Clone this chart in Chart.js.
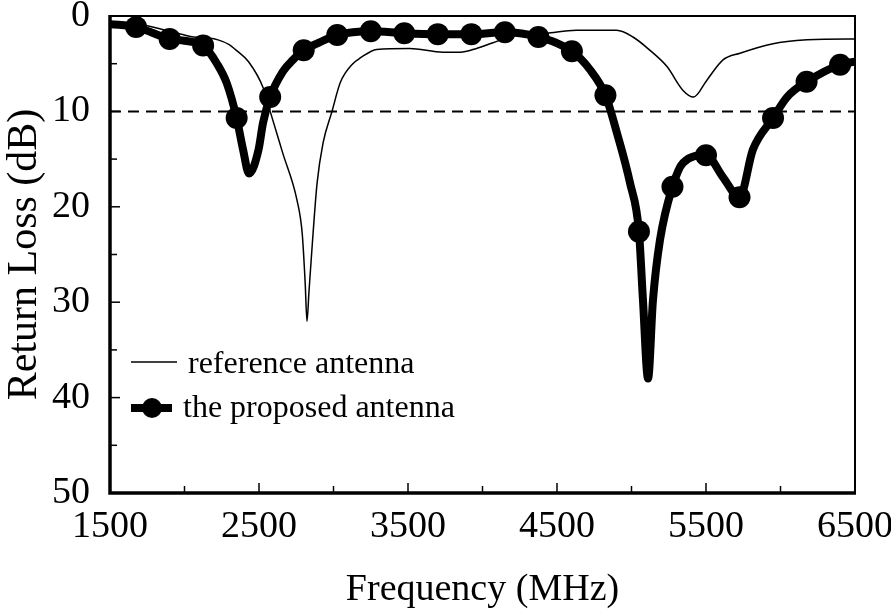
<!DOCTYPE html>
<html lang="en">
<head>
  <meta charset="UTF-8">
  <title>Return Loss</title>
  <style>
    body { margin: 0; background: #fff; }
    #wrap { width: 891px; height: 613px; }
  </style>
</head>
<body>

<div id="wrap">
  <canvas id="rlChart"></canvas>
</div>

<script src="https://cdn.jsdelivr.net/npm/chart.js"></script>
<script>
  // reference antenna (thin line)
  const refFreq = [1500, 1600, 1700, 1800, 1900, 2000, 2060, 2150, 2225, 2300, 2340, 2430, 2530, 2575,
    2660, 2755, 2790, 2810, 2822, 2835, 2855, 2890, 2930, 2990, 3045, 3130, 3180, 3290, 3510, 3735,
    3850, 3960, 4070, 4200, 4430, 4630, 4900, 5010, 5124, 5238, 5346, 5416, 5507, 5614, 5728, 5950,
    6180, 6450, 6500];
  const refLoss = [0.6, 0.7, 0.9, 1.2, 1.6, 2.0, 2.2, 2.3, 2.5, 3.0, 3.5, 4.8, 7.6, 10.0,
    14.4, 19.3, 22.8, 28.0, 32.0, 29.0, 24.5, 17.5, 13.3, 10.0, 7.0, 5.0, 4.4, 3.5, 3.4, 3.8,
    3.8, 3.4, 2.8, 2.1, 1.8, 1.5, 1.5, 2.2, 3.6, 5.3, 7.8, 8.5, 6.7, 4.6, 3.9, 2.9,
    2.5, 2.4, 2.4];

  // proposed antenna (thick line with markers)
  const propFreq = [1500, 1675, 1775, 1900, 2000, 2125, 2218, 2285, 2350, 2393, 2433, 2497, 2527, 2575,
    2661, 2728, 2800, 2888, 3025, 3250, 3475, 3700, 3925, 4150, 4375, 4600, 4720, 4825, 4903, 4990,
    5050, 5077, 5111, 5144, 5191, 5275, 5346, 5500, 5614, 5725, 5815, 5950, 6044, 6175, 6400, 6500];
  const propLoss = [0.85, 1.15, 1.7, 2.4, 2.6, 3.1, 5.0, 7.1, 10.7, 14.0, 16.5, 14.0, 11.2, 8.5,
    5.8, 4.6, 3.6, 2.9, 2.0, 1.6, 1.8, 1.9, 1.9, 1.7, 2.2, 3.7, 5.6, 8.3, 12.3, 17.5,
    22.6, 29.8, 38.0, 29.8, 23.5, 17.9, 15.4, 14.6, 16.9, 19.0, 14.0, 10.7, 8.5, 6.9, 5.1, 4.8];
  const markerFreq = [1675, 1900, 2125, 2350, 2575, 2800, 3025, 3250, 3475, 3700, 3925, 4150, 4375,
    4600, 4825, 5050, 5275, 5500, 5725, 5950, 6175, 6400];

  const xLabels = [1500, 2500, 3500, 4500, 5500, 6500];
  const yLabels = [0, 10, 20, 30, 40, 50];
  const limitLoss = 10;

  const serif = '"Liberation Serif", "Times New Roman", serif';
  Chart.defaults.color = '#000';
  Chart.defaults.font.family = serif;

  const toXY = (xs, ys) => xs.map((v, i) => ({ x: v, y: ys[i] }));

  // inward tick marks and the box round the plot
  const framePlugin = {
    id: 'frame',
    afterDatasetsDraw(chart) {
      const { ctx, chartArea: a, scales: { x, y } } = chart;
      ctx.save();
      ctx.strokeStyle = '#000';
      ctx.lineWidth = 1.5;
      x.ticks.forEach(t => {
        const px = x.getPixelForValue(t.value);
        const len = t.label ? 10 : 7;
        ctx.beginPath();
        ctx.moveTo(px, a.bottom);
        ctx.lineTo(px, a.bottom - len);
        ctx.stroke();
      });
      y.ticks.forEach(t => {
        const py = y.getPixelForValue(t.value);
        const len = t.label ? 10 : 7;
        ctx.beginPath();
        ctx.moveTo(a.left, py);
        ctx.lineTo(a.left + len, py);
        ctx.stroke();
      });
      ctx.lineWidth = 2;
      ctx.strokeRect(a.left, a.top, a.right - a.left, a.bottom - a.top);
      ctx.lineWidth = 3.5;
      ctx.beginPath();
      ctx.moveTo(a.left, a.top - 1);
      ctx.lineTo(a.left, a.bottom);
      ctx.lineTo(a.right + 1, a.bottom);
      ctx.stroke();
      ctx.restore();
    }
  };

  const legendPlugin = {
    id: 'innerLegend',
    afterDraw(chart) {
      const { ctx, chartArea: a } = chart;
      const lx = a.left + 21;
      ctx.save();
      ctx.strokeStyle = '#000';
      ctx.fillStyle = '#000';
      ctx.font = '32px ' + serif;
      ctx.textBaseline = 'alphabetic';

      ctx.lineWidth = 1.5;
      ctx.beginPath();
      ctx.moveTo(lx, a.top + 346);
      ctx.lineTo(lx + 46, a.top + 346);
      ctx.stroke();
      ctx.fillText('reference antenna', lx + 57, a.top + 357);

      ctx.lineWidth = 8;
      ctx.beginPath();
      ctx.moveTo(lx, a.top + 392);
      ctx.lineTo(lx + 41, a.top + 392);
      ctx.stroke();
      ctx.beginPath();
      ctx.arc(lx + 21, a.top + 392, 10, 0, Math.PI * 2);
      ctx.fill();
      ctx.fillText('the proposed antenna', lx + 52, a.top + 401);
      ctx.restore();
    }
  };

  const config = {
    type: 'line',
    data: {
      datasets: [
        {
          label: 'the proposed antenna',
          data: toXY(propFreq, propLoss),
          borderColor: '#000',
          backgroundColor: '#000',
          borderWidth: 8,
          cubicInterpolationMode: 'monotone',
          pointRadius: c => (c.raw && markerFreq.includes(c.raw.x)) ? 11 : 0,
          pointBorderWidth: 0,
          pointBackgroundColor: '#000',
          order: 1
        },
        {
          label: 'reference antenna',
          data: toXY(refFreq, refLoss),
          borderColor: '#000',
          borderWidth: 1.5,
          cubicInterpolationMode: 'monotone',
          pointRadius: 0,
          order: 2
        },
        {
          label: '-10 dB',
          data: [{ x: 1500, y: limitLoss }, { x: 6500, y: limitLoss }],
          borderColor: '#000',
          borderWidth: 2,
          borderDash: [11, 7],
          pointRadius: 0,
          order: 3
        }
      ]
    },
    options: {
      responsive: true,
      maintainAspectRatio: false,
      animation: false,
      layout: { padding: { top: 16, right: 36, left: 0, bottom: 0 } },
      plugins: {
        legend: { display: false },
        tooltip: { enabled: false }
      },
      scales: {
        x: {
          type: 'linear',
          min: 1500,
          max: 6500,
          grid: { display: false, drawTicks: false },
          border: { display: false },
          ticks: {
            stepSize: 500,
            autoSkip: false,
            maxRotation: 0,
            padding: 11,
            font: { size: 38 },
            callback: v => xLabels.includes(v) ? String(v) : ''
          },
          title: {
            display: true,
            text: 'Frequency (MHz)',
            font: { size: 38 },
            padding: 0
          },
          afterFit: s => { s.height = 120; s.paddingLeft = 0; s.paddingRight = 0; }
        },
        y: {
          reverse: true,
          min: 0,
          max: 50,
          grid: { display: false, drawTicks: false },
          border: { display: false },
          ticks: {
            stepSize: 5,
            autoSkip: false,
            padding: 20,
            font: { size: 38 },
            callback: v => yLabels.includes(v) ? String(v) : ''
          },
          title: {
            display: true,
            text: 'Return Loss (dB)',
            font: { size: 42 },
            padding: 0
          },
          afterFit: s => { s.width = 110; s.paddingTop = 0; s.paddingBottom = 0; }
        }
      }
    },
    plugins: [framePlugin, legendPlugin]
  };

  const ctx = document.getElementById('rlChart').getContext('2d');
  const rlChart = new Chart(ctx, config);
</script>

</body>
</html>
